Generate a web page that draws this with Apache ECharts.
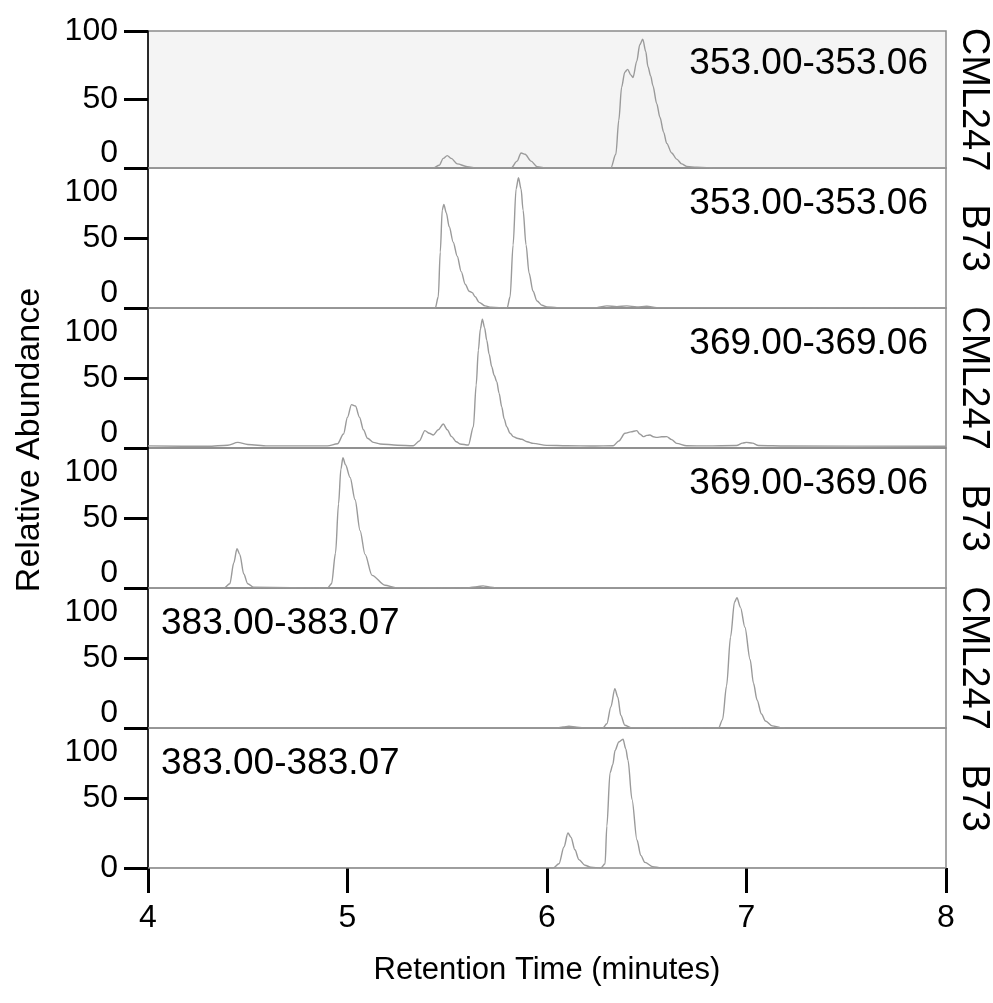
<!DOCTYPE html>
<html>
<head>
<meta charset="utf-8">
<script src="https://cdn.jsdelivr.net/npm/echarts@6/dist/echarts.min.js"></script>
<style>
html,body{margin:0;padding:0;background:#fff;}
#c{width:993px;height:1003px;}
</style>
</head>
<body>
<div id="c"></div>
<script>
// ---- data ----
const xTicks = [4, 5, 6, 7, 8];
const yTicks = [0, 50, 100];
const samples = ['CML247', 'B73', 'CML247', 'B73', 'CML247', 'B73'];
const mzRanges = ['353.00-353.06', '353.00-353.06', '369.00-369.06', '369.00-369.06', '383.00-383.07', '383.00-383.07'];

const trace1 = [[4.0,0],[5.43,0],[5.46,2],[5.48,7],[5.50,9],[5.52,7],[5.55,3],[5.60,1],[5.65,0],[5.82,0],[5.85,5],[5.87,11],[5.89,10],[5.92,5],[5.95,1],[6.0,0],[6.32,0],[6.345,10],[6.36,35],[6.374,59],[6.39,70],[6.404,72],[6.42,68],[6.431,66],[6.45,78],[6.465,90],[6.48,94],[6.495,85],[6.506,74],[6.52,67],[6.531,60],[6.55,47],[6.566,37],[6.585,26],[6.60,18],[6.625,11],[6.65,6.5],[6.675,3],[6.70,1.2],[6.75,0.5],[6.8,0.3],[6.85,0],[8,0]];
const trace2 = [[4.0,0],[5.44,0],[5.455,8],[5.465,40],[5.475,70],[5.483,74],[5.495,68],[5.51,58],[5.53,47],[5.55,37],[5.57,26],[5.59,17],[5.61,12],[5.625,11],[5.64,8],[5.66,4],[5.69,1.5],[5.72,0.5],[5.80,0],[5.815,8],[5.83,45],[5.845,85],[5.857,93],[5.87,85],[5.88,70],[5.895,45],[5.91,25],[5.93,12],[5.95,5],[5.975,2],[6.0,0.8],[6.05,0.3],[6.25,0.3],[6.3,1.5],[6.35,1],[6.4,1.5],[6.45,0.8],[6.5,1.2],[6.55,0.3],[8,0]];
const trace3 = [[4.0,1.5],[4.3,1.2],[4.4,2],[4.45,4],[4.5,2.5],[4.6,1.5],[4.9,1.5],[4.95,3],[4.98,10],[5.0,22],[5.02,31],[5.04,30],[5.06,22],[5.08,13],[5.1,7],[5.13,4],[5.163,2.9],[5.25,2],[5.33,1.6],[5.36,5],[5.388,12.4],[5.41,10.5],[5.43,9.3],[5.455,13],[5.48,17.1],[5.50,13],[5.522,8.1],[5.545,4.5],[5.564,2.9],[5.606,2.1],[5.631,15.2],[5.645,45],[5.656,70],[5.666,85],[5.676,92],[5.687,86],[5.698,77],[5.71,67],[5.723,58],[5.735,52],[5.748,47.4],[5.76,39],[5.773,29.5],[5.785,21],[5.798,15.2],[5.815,10.5],[5.831,8.1],[5.85,7],[5.873,6.2],[5.9,4.5],[5.931,3.3],[5.998,1.9],[6.1,1.6],[6.232,1.4],[6.332,1.6],[6.36,5],[6.391,10.5],[6.42,11.5],[6.45,12.4],[6.465,10],[6.483,8.1],[6.50,9],[6.516,9.3],[6.533,8],[6.55,7.6],[6.575,8],[6.6,8.1],[6.625,6],[6.65,3.3],[6.70,1.6],[6.8,1.5],[6.95,1.8],[6.98,3.5],[7.0,4],[7.03,3.5],[7.06,1.8],[7.2,1.4],[8,1.2]];
const trace4 = [[4.0,0],[4.38,0],[4.41,3],[4.43,18],[4.446,28],[4.46,24],[4.48,10],[4.50,3],[4.53,0.5],[4.9,0],[4.92,3],[4.94,25],[4.955,60],[4.967,85],[4.977,93],[4.99,88],[5.013,79],[5.038,63],[5.063,41],[5.088,24],[5.123,9],[5.188,2],[5.24,0.3],[5.6,0],[5.65,1],[5.68,1.5],[5.71,0.8],[5.75,0],[8,0]];
const trace5 = [[4.0,0],[6.05,0],[6.08,0.8],[6.11,1.2],[6.15,0.6],[6.2,0],[6.28,0],[6.30,3],[6.32,15],[6.34,28],[6.355,22],[6.37,9],[6.39,2],[6.42,0.3],[6.86,0],[6.88,6],[6.90,30],[6.92,65],[6.94,90],[6.952,93],[6.97,86],[6.992,72],[7.018,49],[7.035,32],[7.053,20],[7.075,10],[7.095,5],[7.13,1.5],[7.17,0.3],[7.2,0],[8,0]];
const trace6 = [[4.0,0],[6.03,0],[6.06,3],[6.085,15],[6.105,25],[6.12,22],[6.14,13],[6.16,6],[6.19,2],[6.22,0.5],[6.27,0],[6.291,3],[6.30,30],[6.316,68],[6.33,74],[6.341,84],[6.36,90],[6.381,92],[6.395,85],[6.406,77],[6.426,49],[6.451,20],[6.47,9],[6.491,4],[6.53,1],[6.57,0],[8,0]];
const traces = [trace1, trace2, trace3, trace4, trace5, trace6];

// ---- layout / style ----
const FONT = '"Liberation Sans", Arial, Helvetica, sans-serif';
const gridTops = [31, 168, 308, 448, 588, 728];
const gridHeights = [137, 140, 140, 140, 140, 140];
const chart = echarts.init(document.getElementById('c'), null, {renderer: 'canvas'});

const grids = [], xAxes = [], yAxes = [], series = [], titles = [];
for (let i = 0; i < 6; i++) {
  const last = i === 5;
  grids.push({
    left: 148, right: 47, top: gridTops[i], height: gridHeights[i],
    containLabel: false, outerBoundsMode: 'none',
    show: true, borderColor: '#8a8a8a', borderWidth: 1.5,
    backgroundColor: i === 0 ? '#f4f4f4' : 'transparent'
  });
  xAxes.push({
    gridIndex: i, type: 'value', min: 4, max: 8, interval: 1,
    axisLine: {show: false},
    axisTick: {show: last, length: 25, lineStyle: {color: '#000', width: 3}},
    axisLabel: {show: last, margin: 34, fontSize: 32, color: '#000', fontFamily: FONT},
    splitLine: {show: false},
    name: last ? 'Retention Time (minutes)' : '',
    nameLocation: 'middle', nameGap: 87,
    nameTextStyle: {fontSize: 31, color: '#000', fontFamily: FONT}
  });
  const shiftTop = i > 0, shiftBottom = !last;
  yAxes.push({
    gridIndex: i, type: 'value', min: 0, max: 100, interval: 50,
    axisLine: {show: true, lineStyle: {color: '#000', width: 1.5}},
    axisTick: {show: true, length: 24, lineStyle: {color: '#000', width: 3}},
    axisLabel: {
      margin: 30, fontSize: 32, color: '#000', fontFamily: FONT,
      formatter: function (v) {
        if (v === 100) return shiftTop ? '{t|100}' : '{m|100}';
        if (v === 0) return shiftBottom ? '{b|0}' : '{m|0}';
        return '{m|' + v + '}';
      },
      rich: {
        t: {fontSize: 32, fontFamily: FONT, color: '#000', padding: [48, 0, 0, 0]},
        b: {fontSize: 32, fontFamily: FONT, color: '#000', padding: [0, 0, 30, 0]},
        m: {fontSize: 32, fontFamily: FONT, color: '#000'}
      }
    },
    splitLine: {show: false}
  });
  yAxes.push({
    gridIndex: i, type: 'value', min: 0, max: 100, position: 'right',
    axisLine: {show: false}, axisTick: {show: false}, axisLabel: {show: false},
    splitLine: {show: false},
    name: samples[i], nameLocation: 'middle', nameRotate: -90, nameGap: 8,
    nameTextStyle: {fontSize: 38, color: '#000', fontFamily: FONT}
  });
  series.push({
    type: 'line', xAxisIndex: i, yAxisIndex: i * 2, data: traces[i],
    showSymbol: false, smooth: 0.3, smoothMonotone: 'x',
    lineStyle: {color: '#9a9a9a', width: 1.4}, silent: true, animation: false
  });
  const tt = {text: mzRanges[i], top: 40 + 140 * i,
    textStyle: {fontSize: 37, fontWeight: 'normal', color: '#000', fontFamily: FONT}};
  if (i < 4) tt.right = 60; else tt.left = 156;
  titles.push(tt);
}

chart.setOption({
  animation: false,
  title: titles,
  grid: grids,
  xAxis: xAxes,
  yAxis: yAxes,
  series: series,
  graphic: [{
    type: 'text', x: 30, y: 440, rotation: Math.PI / 2,
    style: {text: 'Relative Abundance', fontSize: 34, fontFamily: FONT, fill: '#000',
      align: 'center', verticalAlign: 'middle'}
  }]
});
</script>
</body>
</html>
